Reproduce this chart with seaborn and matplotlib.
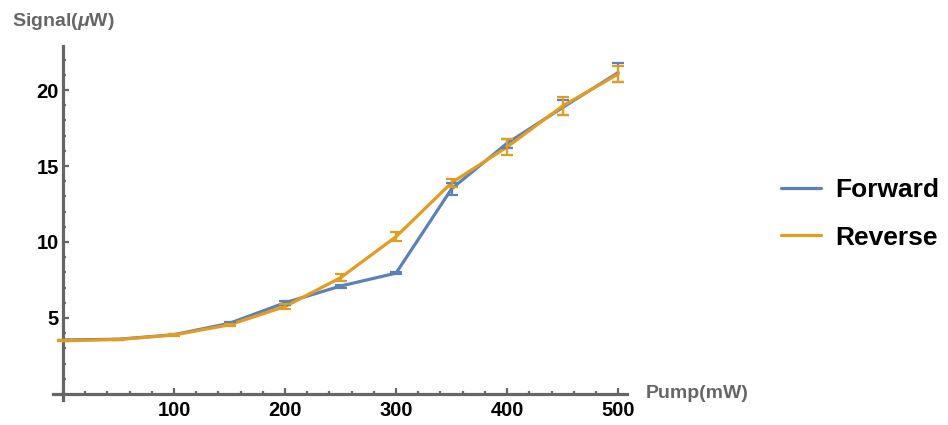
import matplotlib
matplotlib.use("Agg")
import matplotlib.pyplot as plt
from matplotlib.ticker import MultipleLocator
import numpy as np
import pandas as pd
import seaborn as sns

# Pump power (mW) and measured signal (uW) with uncertainties
pump = [0, 50, 100, 150, 200, 250, 300, 350, 400, 450, 500]
forward = [3.55, 3.6, 3.9, 4.65, 6.0, 7.1, 7.95, 13.5, 16.5, 18.85, 21.15]
forward_err = [0.03, 0.03, 0.05, 0.08, 0.12, 0.1, 0.08, 0.4, 0.3, 0.5, 0.6]
reverse = [3.5, 3.58, 3.88, 4.55, 5.75, 7.65, 10.35, 13.9, 16.25, 18.95, 21.05]
reverse_err = [0.03, 0.03, 0.06, 0.07, 0.15, 0.25, 0.3, 0.25, 0.5, 0.6, 0.55]
series_names = ["Forward", "Reverse"]
x_ticks = [100, 200, 300, 400, 500]
y_ticks = [5, 10, 15, 20]

sns.set_theme(style="white")
plt.rcParams["font.family"] = ["Liberation Sans", "DejaVu Sans"]
plt.rcParams["mathtext.fontset"] = "custom"
plt.rcParams["mathtext.it"] = "Liberation Sans:italic:bold"
plt.rcParams["mathtext.rm"] = "Liberation Sans:bold"

BLUE = "#5E81B5"
ORANGE = "#E19C24"
AXIS = "#666666"

df = pd.DataFrame({
    "pump": pump * 2,
    "signal": forward + reverse,
    "err": forward_err + reverse_err,
    "series": [series_names[0]] * len(pump) + [series_names[1]] * len(pump),
})

fig = plt.figure(figsize=(9.48, 4.25), dpi=100)
ax = fig.add_axes([0.0559, 0.0588, 0.6055, 0.833])

palette = {series_names[0]: BLUE, series_names[1]: ORANGE}
sns.lineplot(data=df, x="pump", y="signal", hue="series", palette=palette,
             linewidth=2.3, ax=ax, legend=False, zorder=3)
for name in series_names:
    sub = df[df["series"] == name]
    ax.errorbar(sub["pump"], sub["signal"], yerr=sub["err"], fmt="none",
                ecolor=palette[name], elinewidth=1.6, capsize=4.3,
                capthick=1.6, zorder=3)

ax.set_xlim(-9, 508)
ax.set_ylim(-0.4, 22.9)

for side in ["top", "right"]:
    ax.spines[side].set_visible(False)
for side in ["left", "bottom"]:
    ax.spines[side].set_position(("data", 0))
    ax.spines[side].set_color(AXIS)
    ax.spines[side].set_linewidth(2.3)
ax.spines["left"].set_bounds(-0.4, 22.9)
ax.spines["bottom"].set_bounds(-9, 508)

ax.set_xticks(x_ticks)
ax.set_yticks(y_ticks)
ax.xaxis.set_minor_locator(MultipleLocator(20))
ax.yaxis.set_minor_locator(MultipleLocator(1))
ax.tick_params(which="both", bottom=True, left=True, top=False, right=False)
ax.tick_params(which="major", direction="in", length=4.5, width=1.6,
               color=AXIS, labelsize=14.5, labelcolor="black", pad=3)
ax.tick_params(which="minor", direction="in", length=2.5, width=1.6,
               color=AXIS)
ax.tick_params(axis="x", which="major", pad=5)
for lab in ax.get_xticklabels() + ax.get_yticklabels():
    lab.set_fontweight("bold")
ax.set_xlabel("")
ax.set_ylabel("")
ax.grid(False)

fig.text(12 / 948, 1 - 21 / 425, r"Signal($\mu$W)", color=AXIS,
         fontsize=14, fontweight="bold", ha="left", va="center")
fig.text(646 / 948, 1 - 393 / 425, "Pump(mW)", color=AXIS,
         fontsize=14, fontweight="bold", ha="left", va="center")

handles = [plt.Line2D([], [], color=BLUE, lw=2.3),
           plt.Line2D([], [], color=ORANGE, lw=2.3)]
leg = fig.legend(handles, series_names, loc="center left",
                 bbox_to_anchor=(781 / 948, 1 - 214 / 425), frameon=False,
                 borderpad=0, borderaxespad=0, handlelength=1.5,
                 handletextpad=0.57, labelspacing=0.88, labelcolor="black",
                 prop={"size": 19, "weight": "bold"})

fig.savefig("out.png", dpi=100)
